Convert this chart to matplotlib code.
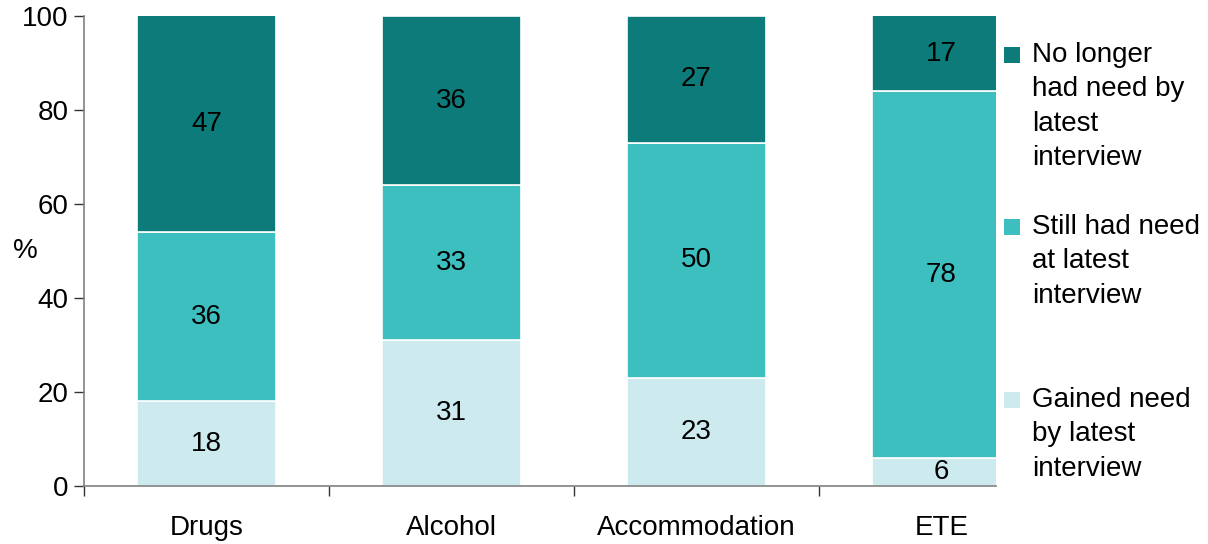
import matplotlib.pyplot as plt
from matplotlib.patches import Rectangle
from matplotlib.ticker import FixedLocator

plt.rcParams['font.family'] = ['Liberation Sans', 'DejaVu Sans']

categories = ["Drugs", "Alcohol", "Accommodation", "ETE"]
gained = [18, 31, 23, 6]
still_had = [36, 33, 50, 78]
no_longer = [47, 36, 27, 17]

series = [
    ("Gained need\nby latest\ninterview", gained, "#CDEAEF"),
    ("Still had need\nat latest\ninterview", still_had, "#3DBFC0"),
    ("No longer\nhad need by\nlatest\ninterview", no_longer, "#0D7B7A"),
]

fs = 20
W, H = 1208, 544
fig = plt.figure(figsize=(W / 100, H / 100), dpi=100)
ax = fig.add_axes([84 / W, 58 / H, 912 / W, 470 / H])

x = list(range(len(categories)))
bottoms = [0] * len(categories)
for label, vals, color in series:
    ax.bar(x, vals, width=0.57, bottom=bottoms, color=color,
           edgecolor="white", linewidth=1.2, label=label)
    for xi, b, v in zip(x, bottoms, vals):
        top = min(b + v, 100)
        ax.text(xi, (b + top) / 2, str(v), ha="center", va="center",
                fontsize=fs, color="black")
    bottoms = [b + v for b, v in zip(bottoms, vals)]

ax.set_ylim(0, 100)
ax.set_xlim(-0.5, -0.5 + 912 / 245)
ax.set_yticks(range(0, 101, 20))
ax.set_xticks(x)
ax.set_xticklabels(categories)
ax.xaxis.set_minor_locator(FixedLocator([-0.5, 0.5, 1.5, 2.5]))
ax.tick_params(axis="x", which="major", length=0, labelsize=fs, pad=21)
ax.tick_params(axis="x", which="minor", length=7, width=1, color="#333333")
ax.tick_params(axis="y", length=7, width=1, color="#333333", labelsize=fs, pad=4)

for s in ("top", "right"):
    ax.spines[s].set_visible(False)
for s in ("left", "bottom"):
    ax.spines[s].set_color("#808080")
    ax.spines[s].set_linewidth(1.2)

ax.set_ylabel("%", rotation=0, fontsize=fs, va="center", ha="center")
ax.yaxis.set_label_coords(-59 / 912, (486 - 251) / 470)

# legend drawn by hand: square sits beside the first line of each label
leg_top = [42, 214, 387]
leg_sq = [55, 227, 400]
for (label, vals, color), yt, ys in zip(reversed(series), leg_top, leg_sq):
    fig.patches.append(Rectangle((1004 / W, 1 - (ys + 8) / H), 16 / W, 16 / H,
                                 transform=fig.transFigure, facecolor=color,
                                 edgecolor="none"))
    fig.text(1032 / W, 1 - yt / H, label, ha="left", va="top", fontsize=fs,
             linespacing=1.42)

fig.savefig("out.png", dpi=100)
